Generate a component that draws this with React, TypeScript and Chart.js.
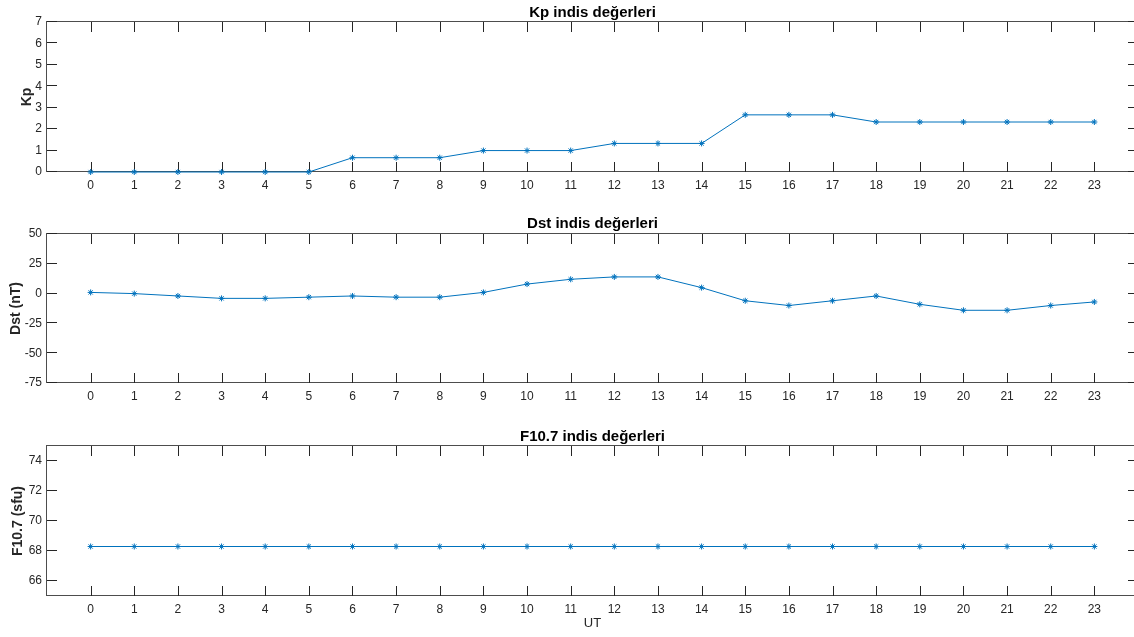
import React, { useEffect, useRef } from "react";
import { Chart, registerables } from "chart.js";

Chart.register(...registerables);

// ---------- data ----------
const HOURS = [0, 1, 2, 3, 4, 5, 6, 7, 8, 9, 10, 11, 12, 13, 14, 15, 16, 17, 18, 19, 20, 21, 22, 23];
const KP = [0, 0, 0, 0, 0, 0, 0.667, 0.667, 0.667, 1, 1, 1, 1.333, 1.333, 1.333, 2.667, 2.667, 2.667, 2.333, 2.333, 2.333, 2.333, 2.333, 2.333];
const DST = [1, 0, -2, -4, -4, -3, -2, -3, -3, 1, 8, 12, 14, 14, 5, -6, -10, -6, -2, -9, -14, -14, -10, -7];
const F107 = [68.3, 68.3, 68.3, 68.3, 68.3, 68.3, 68.3, 68.3, 68.3, 68.3, 68.3, 68.3, 68.3, 68.3, 68.3, 68.3, 68.3, 68.3, 68.3, 68.3, 68.3, 68.3, 68.3, 68.3];

const KP_TICKS = [0, 1, 2, 3, 4, 5, 6, 7];
const DST_TICKS = [-75, -50, -25, 0, 25, 50];
const F107_TICKS = [66, 68, 70, 72, 74];

const TITLES = ["Kp indis değerleri", "Dst indis değerleri", "F10.7 indis değerleri"];
const Y_LABELS = ["Kp", "Dst (nT)", "F10.7 (sfu)"];
const X_LABEL = "UT";

// ---------- layout / style ----------
const CANVAS_W = 1150;
const AREA_LEFT = 47;
const AREA_RIGHT = 1138;
const TICK_LEN = 10;
const LINE_COLOR = "#0072BD";
const AXIS_COLOR = "#262626";
const BOX_COLOR = "#4d4d4d";
const FONT = "'Liberation Sans', Arial, Helvetica, sans-serif";

type PanelSpec = {
  top: number;
  height: number;
  titleCenter: number;
  areaTop: number;
  areaBottom: number;
  ylabelCenter: number;
  values: number[];
  yTicks: number[];
  yMin: number;
  yMax: number;
  title: string;
  ylabel: string;
  showX: boolean;
};

const PANELS: PanelSpec[] = [
  { top: 0, height: 205, titleCenter: 13, areaTop: 22, areaBottom: 172, ylabelCenter: 27.5,
    values: KP, yTicks: KP_TICKS, yMin: 0, yMax: 7, title: TITLES[0], ylabel: Y_LABELS[0], showX: false },
  { top: 205, height: 210, titleCenter: 224, areaTop: 234, areaBottom: 383, ylabelCenter: 16,
    values: DST, yTicks: DST_TICKS, yMin: -75, yMax: 50, title: TITLES[1], ylabel: Y_LABELS[1], showX: false },
  { top: 415, height: 222, titleCenter: 437, areaTop: 446, areaBottom: 596, ylabelCenter: 18.5,
    values: F107, yTicks: F107_TICKS, yMin: 65, yMax: 75, title: TITLES[2], ylabel: Y_LABELS[2], showX: true },
];

const boxPlugin = {
  id: "matlabBox",
  beforeDatasetsDraw(chart: any) {
    const { ctx, chartArea } = chart;
    const { left, right, top, bottom } = chartArea;
    ctx.save();
    ctx.lineWidth = 1;
    ctx.strokeStyle = BOX_COLOR;
    ctx.strokeRect(Math.round(left) - 0.5, Math.round(top) - 0.5, Math.round(right - left), Math.round(bottom - top));
    ctx.strokeStyle = AXIS_COLOR;
    ctx.beginPath();
    const xs = chart.scales.x;
    for (const t of xs.ticks) {
      const px = Math.round(xs.getPixelForValue(t.value)) + 0.5;
      ctx.moveTo(px, bottom);
      ctx.lineTo(px, bottom - TICK_LEN);
      ctx.moveTo(px, top);
      ctx.lineTo(px, top + TICK_LEN);
    }
    const ys = chart.scales.y;
    for (const t of ys.ticks) {
      const py = Math.round(ys.getPixelForValue(t.value)) - 0.5;
      ctx.moveTo(left, py);
      ctx.lineTo(left + TICK_LEN, py);
      ctx.moveTo(right, py);
      ctx.lineTo(right - TICK_LEN, py);
    }
    ctx.stroke();
    ctx.restore();
  },
};

function Panel({ spec }: { spec: PanelSpec }) {
  const ref = useRef<HTMLCanvasElement | null>(null);
  useEffect(() => {
    const canvas = ref.current;
    if (!canvas) return;
    const titleFont = 15;
    const titleLH = titleFont * 1.2;
    const titleRelCenter = spec.titleCenter - spec.top;
    const titlePadTop = titleRelCenter - titleLH / 2;
    const titlePadBottom = spec.areaTop - spec.top - titlePadTop - titleLH;
    const xHeight = spec.height - (spec.areaBottom - spec.top);
    const ylabelLH = 14 * 1.2;

    const chart = new Chart(canvas, {
      type: "line",
      data: {
        datasets: [
          {
            data: HOURS.map((h, i) => ({ x: h, y: spec.values[i] })),
            borderColor: LINE_COLOR,
            backgroundColor: LINE_COLOR,
            borderWidth: 1,
            pointStyle: "star",
            pointRadius: 3,
            pointBorderWidth: 1,
            pointBorderColor: LINE_COLOR,
            pointBackgroundColor: LINE_COLOR,
            tension: 0,
            fill: false,
            clip: false as any,
          },
        ],
      },
      options: {
        responsive: false,
        animation: false,
        devicePixelRatio: 1,
        layout: { padding: { left: 0, right: CANVAS_W - AREA_RIGHT, top: 0, bottom: 0 } },
        plugins: {
          legend: { display: false },
          tooltip: { enabled: false },
          title: {
            display: true,
            text: spec.title,
            fullSize: false,
            color: "#000000",
            font: { family: FONT, size: titleFont, weight: "bold" },
            padding: { top: titlePadTop, bottom: titlePadBottom },
          },
        },
        scales: {
          x: {
            type: "linear",
            min: -1,
            max: 24,
            grid: { display: false, drawTicks: false },
            border: { display: false },
            afterBuildTicks: (s: any) => {
              s.ticks = HOURS.map((v) => ({ value: v }));
            },
            afterFit: (s: any) => {
              s.height = xHeight;
            },
            ticks: {
              autoSkip: false,
              maxRotation: 0,
              padding: 6,
              color: AXIS_COLOR,
              font: { family: FONT, size: 12 },
              callback: (v: any) => String(v),
            },
            title: {
              display: spec.showX,
              text: X_LABEL,
              color: AXIS_COLOR,
              font: { family: FONT, size: 13 },
              padding: { top: 0, bottom: 6 },
            },
          },
          y: {
            type: "linear",
            min: spec.yMin,
            max: spec.yMax,
            grid: { display: false, drawTicks: false },
            border: { display: false },
            afterBuildTicks: (s: any) => {
              s.ticks = spec.yTicks.map((v) => ({ value: v }));
            },
            afterFit: (s: any) => {
              s.width = AREA_LEFT;
            },
            ticks: {
              padding: 5,
              color: AXIS_COLOR,
              font: { family: FONT, size: 12 },
              callback: (v: any) => String(v),
            },
            title: {
              display: true,
              text: spec.ylabel,
              color: AXIS_COLOR,
              font: { family: FONT, size: 14, weight: "bold" },
              padding: { top: spec.ylabelCenter - ylabelLH / 2, bottom: 0 },
            },
          },
        },
      } as any,
      plugins: [boxPlugin],
    });
    return () => chart.destroy();
  }, [spec]);

  return (
    <canvas
      ref={ref}
      width={CANVAS_W}
      height={spec.height}
      style={{ position: "absolute", left: 0, top: spec.top, width: CANVAS_W, height: spec.height, display: "block" }}
    />
  );
}

export default function App() {
  return (
    <div
      style={{
        position: "fixed",
        left: 0,
        top: 0,
        width: 1134,
        height: 637,
        overflow: "hidden",
        background: "#ffffff",
      }}
    >
      {PANELS.map((p, i) => (
        <Panel key={i} spec={p} />
      ))}
    </div>
  );
}
